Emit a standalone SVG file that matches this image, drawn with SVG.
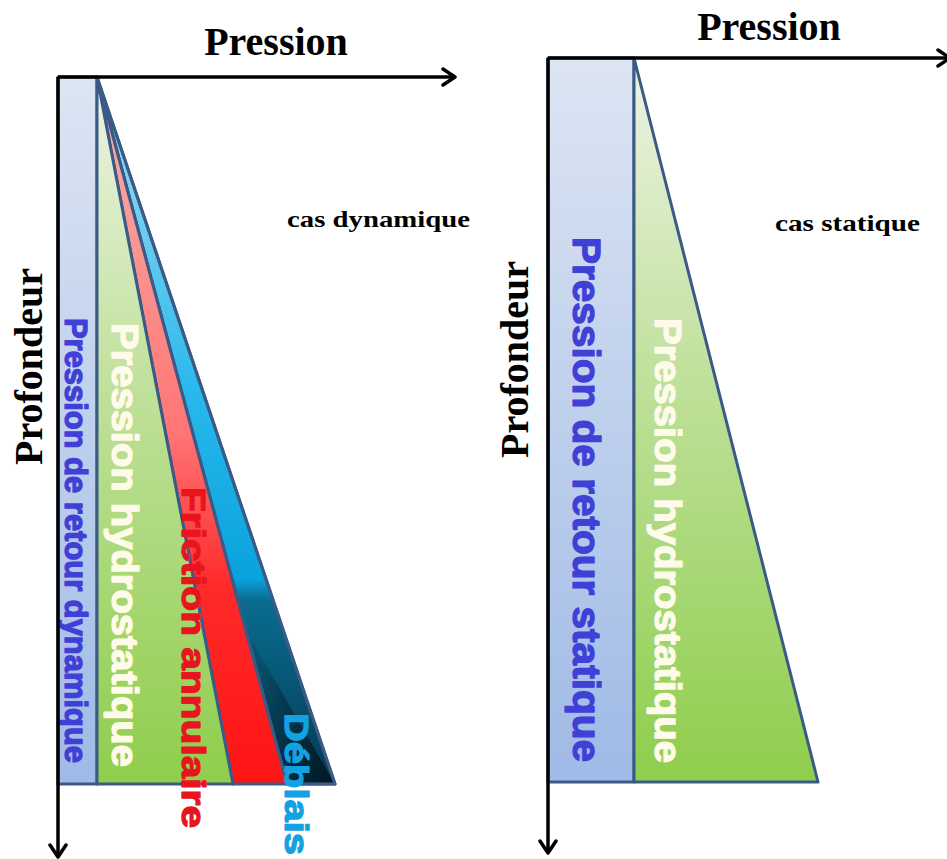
<svg xmlns="http://www.w3.org/2000/svg" width="947" height="859" viewBox="0 0 947 859">
  <defs>
    <linearGradient id="gRetour" x1="0" y1="0" x2="0" y2="1">
      <stop offset="0" stop-color="#dde5f3"/>
      <stop offset="1" stop-color="#9fbae6"/>
    </linearGradient>
    <linearGradient id="gHydro" x1="0" y1="0" x2="0" y2="1">
      <stop offset="0" stop-color="#edf4e4"/>
      <stop offset="0.45" stop-color="#bfe09a"/>
      <stop offset="1" stop-color="#8fce4c"/>
    </linearGradient>
    <linearGradient id="gFriction" x1="0" y1="0" x2="0" y2="1">
      <stop offset="0" stop-color="#f6b2aa"/>
      <stop offset="0.5" stop-color="#ff7676"/>
      <stop offset="0.72" stop-color="#ff2a2a"/>
      <stop offset="1" stop-color="#ff1414"/>
    </linearGradient>
    <linearGradient id="gDeblais" x1="0" y1="0" x2="0" y2="1">
      <stop offset="0" stop-color="#a9def2"/>
      <stop offset="0.45" stop-color="#28b8ec"/>
      <stop offset="0.71" stop-color="#0aa2dc"/>
      <stop offset="0.74" stop-color="#0a6c90"/>
      <stop offset="1" stop-color="#043a52"/>
    </linearGradient>
    <linearGradient id="gDeblaisShade" x1="0" y1="0" x2="1" y2="0">
      <stop offset="0" stop-color="#000" stop-opacity="0"/>
      <stop offset="1" stop-color="#000" stop-opacity="0.6"/>
    </linearGradient>
    <marker id="arrow" viewBox="0 0 20 20" refX="17" refY="10" markerWidth="20" markerHeight="20" markerUnits="userSpaceOnUse" orient="auto">
      <polyline points="5,2 17,10 5,18" fill="none" stroke="#000" stroke-width="3.5" stroke-linecap="round" stroke-linejoin="round"/>
    </marker>
  </defs>
  <style>
    .axis { fill: none; stroke: #000; stroke-width: 3.5; marker-end: url(#arrow); }
    .band { stroke: #3b5b86; stroke-width: 3; stroke-linejoin: round; }
    .title { font-family: "Liberation Serif", "Times New Roman", serif; font-weight: bold; font-size: 40px; fill: #000; }
    .case { font-family: "Liberation Serif", "Times New Roman", serif; font-weight: bold; font-size: 23px; fill: #000; }
    .lbl { font-family: "Liberation Sans", Arial, sans-serif; font-weight: bold; stroke-width: 1.3; stroke-linejoin: round; }
    .retour { fill: #4040d6; stroke: #4040d6; }
    .hydro { fill: #fffbea; stroke: #fffbea; }
    .friction { fill: #e8141e; stroke: #e8141e; }
    .deblais { fill: #12a2e2; stroke: #12a2e2; }
  </style>

  <!-- Dynamic case -->
  <g id="dynamique">
    <g id="dyn-retour">
      <rect x="58" y="77" width="39" height="707" fill="url(#gRetour)" class="band"/>
      <text class="lbl retour" font-size="31" textLength="445" lengthAdjust="spacingAndGlyphs" transform="translate(65,318) rotate(90)">Pression de retour dynamique</text>
    </g>
    <g id="dyn-deblais">
      <polygon points="97,77 335,784 287,784" fill="url(#gDeblais)" class="band"/>
      <polygon points="240,620 335,784 287,784" fill="url(#gDeblaisShade)" stroke="none"/>
      <polygon points="97,77 335,784 287,784" fill="none" class="band"/>
    </g>
    <g id="dyn-friction">
      <polygon points="97,77 287,784 233,784" fill="url(#gFriction)" class="band"/>
    </g>
    <g id="dyn-hydro">
      <polygon points="97,77 233,784 97,784" fill="url(#gHydro)" class="band"/>
      <text class="lbl hydro" font-size="36" textLength="444" lengthAdjust="spacingAndGlyphs" transform="translate(112,323) rotate(90)">Pression hydrostatique</text>
    </g>
    <text class="lbl friction" font-size="34" textLength="341" lengthAdjust="spacingAndGlyphs" transform="translate(182,487) rotate(90)">Friction annulaire</text>
    <text class="lbl deblais" font-size="34" textLength="142" lengthAdjust="spacingAndGlyphs" transform="translate(285,713) rotate(90)">Déblais</text>
    <text class="case" x="287" y="227" textLength="183" lengthAdjust="spacingAndGlyphs">cas dynamique</text>
  </g>

  <!-- Static case -->
  <g id="statique">
    <g id="stat-retour">
      <rect x="548" y="58" width="86" height="724" fill="url(#gRetour)" class="band"/>
      <text class="lbl retour" font-size="38" textLength="525" lengthAdjust="spacingAndGlyphs" transform="translate(573,237) rotate(90)">Pression de retour statique</text>
    </g>
    <g id="stat-hydro">
      <polygon points="634,58 818,782 634,782" fill="url(#gHydro)" class="band"/>
      <text class="lbl hydro" font-size="36" textLength="445" lengthAdjust="spacingAndGlyphs" transform="translate(655,318) rotate(90)">Pression hydrostatique</text>
    </g>
    <text class="case" x="775" y="231" textLength="145" lengthAdjust="spacingAndGlyphs">cas statique</text>
  </g>

  <!-- Axes -->
  <g id="axes">
    <path class="axis" d="M58,77 H455"/>
    <path class="axis" d="M58,77 V857"/>
    <path class="axis" d="M548,58 H950"/>
    <path class="axis" d="M548,58 V853"/>
  </g>

  <!-- Axis titles -->
  <g id="axis-labels">
    <text class="title" x="276" y="55" text-anchor="middle">Pression</text>
    <text class="title" x="769" y="40" text-anchor="middle">Pression</text>
    <text class="title" textLength="197" lengthAdjust="spacingAndGlyphs" transform="translate(42,465) rotate(-90)">Profondeur</text>
    <text class="title" textLength="197" lengthAdjust="spacingAndGlyphs" transform="translate(528,458) rotate(-90)">Profondeur</text>
  </g>
</svg>
